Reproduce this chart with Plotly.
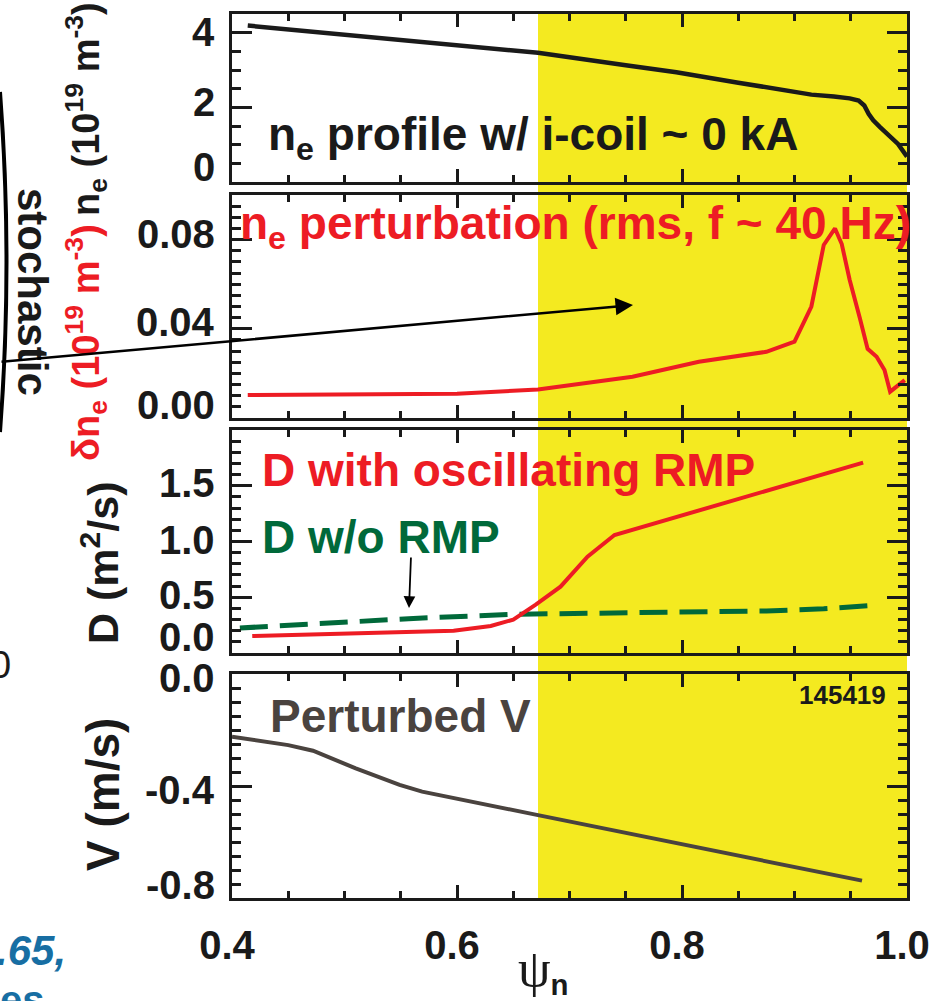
import plotly.graph_objects as go

# ---------------- data ----------------
psi_ne = [0.414, 0.50, 0.60, 0.672, 0.75, 0.795, 0.85, 0.915, 0.935, 0.949, 0.957, 0.962,
          0.966, 0.970, 0.976, 0.985, 0.992, 1.0]
ne = [4.19, 3.95, 3.68, 3.46, 3.13, 2.94, 2.66, 2.34, 2.29, 2.24, 2.18, 2.05,
      1.82, 1.65, 1.47, 1.22, 1.02, 0.68]

psi_dne = [0.414, 0.50, 0.60, 0.672, 0.72, 0.756, 0.815, 0.875, 0.90, 0.915, 0.926, 0.936,
           0.942, 0.949, 0.958, 0.965, 0.973, 0.980, 0.985, 0.991, 0.998]
dne = [0.0103, 0.0104, 0.0109, 0.0128, 0.0158, 0.0185, 0.0252, 0.0297, 0.0342, 0.050, 0.0776, 0.085,
       0.078, 0.062, 0.045, 0.031, 0.0275, 0.0215, 0.0118, 0.014, 0.017]

psi_D_rmp = [0.418, 0.50, 0.597, 0.63, 0.65, 0.67, 0.692, 0.716, 0.74, 0.961]
D_rmp = [0.152, 0.17, 0.20, 0.242, 0.30, 0.433, 0.595, 0.864, 1.058, 1.707]

psi_D0 = [0.407, 0.557, 0.648, 0.756, 0.875, 0.926, 0.975]
D0 = [0.224, 0.308, 0.347, 0.360, 0.377, 0.397, 0.43]

psi_V = [0.40, 0.45, 0.472, 0.51, 0.549, 0.569, 0.672, 0.795, 0.96]
V = [-0.224, -0.254, -0.274, -0.337, -0.396, -0.42, -0.504, -0.605, -0.738]

yellow_band = [0.672, 1.003]

x_tickvals = [0.4, 0.6, 0.8, 1.0]
x_ticktext = ["0.4", "0.6", "0.8", "1.0"]
y1_tickvals = [0, 2, 4]
y1_ticktext = ["0", "2", "4"]
y2_tickvals = [0, 0.02, 0.04, 0.06, 0.08]
y2_ticktext = ["0.00", "", "0.04", "", "0.08"]
y3_tickvals = [0, 0.5, 1.0, 1.5]
y3_ticktext = ["0.0", "0.5", "1.0", "1.5"]
y4_tickvals = [-0.8, -0.6, -0.4, -0.2, 0.0]
y4_ticktext = ["-0.8", "", "-0.4", "", "0.0"]

# ---------------- styling ----------------
W, H = 932, 1001
L, R, T, B = 232, 907, 14, 898          # plot area in pixels
FONT = "Liberation Sans, Arial, sans-serif"
RED = "#ED1C24"
GREEN = "#00693A"
BROWN = "#4A433F"
YELLOW = "#F4EA20"
BLUE = "#176EA3"
INK = "#1A1A1A"


def px(xp):
    return (xp - L) / (R - L)


def py(yp):
    return (B - yp) / (B - T)


def dom(top, bot):
    return [py(bot), py(top)]


panels = [(14, 182), (195, 418), (430, 653), (674, 898)]

fig = go.Figure()
fig.add_trace(go.Scatter(x=psi_ne, y=ne, mode="lines", line=dict(color=INK, width=4.5),
                         xaxis="x", yaxis="y", showlegend=False))
fig.add_trace(go.Scatter(x=psi_dne, y=dne, mode="lines", line=dict(color=RED, width=4),
                         xaxis="x2", yaxis="y2", showlegend=False))
fig.add_trace(go.Scatter(x=psi_D0, y=D0, mode="lines", line=dict(color=GREEN, width=5, dash="28px,12px"),
                         xaxis="x3", yaxis="y3", showlegend=False))
fig.add_trace(go.Scatter(x=psi_D_rmp, y=D_rmp, mode="lines", line=dict(color=RED, width=4),
                         xaxis="x3", yaxis="y3", showlegend=False))
fig.add_trace(go.Scatter(x=psi_V, y=V, mode="lines", line=dict(color=BROWN, width=4),
                         xaxis="x4", yaxis="y4", showlegend=False))

TICKSIZE = 40
tickfont = dict(family=FONT, size=TICKSIZE, color=INK, weight="bold")
common = dict(showline=True, linecolor=INK, linewidth=3, mirror="ticks", ticks="inside",
              tickcolor=INK, tickwidth=2.5, showgrid=False, zeroline=False, tickfont=tickfont,
              automargin=False)

layout_axes = {}
yspecs = [([0, 4.5], y1_tickvals, y1_ticktext, 0.5),
          ([0, 0.1], y2_tickvals, y2_ticktext, 0.005),
          ([0, 2.0], y3_tickvals, y3_ticktext, 0.1),
          ([-0.8, 0.0], y4_tickvals, y4_ticktext, 0.05)]
# vertical nudges (px, up = positive) of the y tick labels, as placed in the reference
label_shift = [[15, 5, 1],
               [13, 0, 7, 0, 6],
               [16, 2, 1.5, 3],
               [13, 0, -4, 0, -4]]

ann = []
for i, ((top, bot), (rng, tv, tt, mdt)) in enumerate(zip(panels, yspecs), start=1):
    sfx = "" if i == 1 else str(i)
    layout_axes["xaxis" + sfx] = dict(
        common, domain=[0, 1], range=[0.4, 1.0], anchor="y" + sfx,
        tickvals=x_tickvals, ticktext=x_ticktext, ticklen=13,
        showticklabels=(i == 4), ticklabelstandoff=10, ticklabelshift=-5,
        ticklabeloverflow="allow",
        minor=dict(dtick=0.05, ticklen=7, tickwidth=2.5, tickcolor=INK, ticks="inside", showgrid=False))
    layout_axes["yaxis" + sfx] = dict(
        common, domain=dom(top, bot), range=rng, anchor="x" + sfx,
        tickvals=tv, ticktext=tt, ticklen=20, showticklabels=False,
        minor=dict(dtick=mdt, ticklen=9, tickwidth=2.5, tickcolor=INK, ticks="inside", showgrid=False))
    # y tick labels drawn from the same tick arrays
    for v, s, sh in zip(tv, tt, label_shift[i - 1]):
        if s:
            ann.append(dict(xref="paper", yref="y" + sfx, x=px(217), y=v, yshift=sh, text=s,
                            showarrow=False, xanchor="right", yanchor="middle", font=tickfont))

shapes = [
    dict(type="rect", xref="x4", yref="paper", x0=yellow_band[0], x1=yellow_band[1],
         y0=0, y1=py(13), fillcolor=YELLOW, line=dict(width=0), layer="below"),
    # fragment of a neighbouring drawing at the left edge
    dict(type="path", xref="paper", yref="paper",
         path=f"M {px(0)} {py(92)} Q {px(13)} {py(262)} {px(0)} {py(432)}",
         line=dict(color="black", width=4)),
]


def text(x, y, s, size, color, xanchor="left", angle=0, family=FONT, weight="bold", style="normal"):
    ann.append(dict(xref="paper", yref="paper", x=px(x), y=py(y), text=s, showarrow=False,
                    xanchor=xanchor, yanchor="middle", textangle=angle,
                    font=dict(family=family, size=size, color=color, weight=weight, style=style)))


# in-panel labels
text(266, 138, "n<sub>e</sub> profile w/ i-coil ~ 0 kA", 46, INK)
text(238, 226, "n<sub>e</sub> perturbation (rms, f ~ 40 Hz)", 46, RED)
text(260, 470, "D with oscillating RMP", 46, RED)
text(260, 537, "D w/o RMP", 46, GREEN)
text(268, 716, "Perturbed V", 46, BROWN)
text(888, 695, "145419", 26, INK, xanchor="right")

# axis titles (rotated)
text(86, 109, "n<sub>e</sub> (10<sup>19</sup> m<sup>-3</sup>)", 38, INK, xanchor="center", angle=-90)
text(86, 343, "δn<sub>e</sub> (10<sup>19</sup> m<sup>-3</sup>)", 38, RED, xanchor="center", angle=-90)
text(100, 563, "D (m<sup>2</sup>/s)", 43, INK, xanchor="center", angle=-90)
text(103, 795, "V (m/s)", 46, INK, xanchor="center", angle=-90)

# x-axis title
ann.append(dict(xref="paper", yref="paper", x=px(543), y=py(971), showarrow=False,
                xanchor="center", yanchor="middle",
                text="<span style='font-family:Liberation Serif, DejaVu Serif, serif; font-weight:normal; font-size:52px'>ψ</span><sub>n</sub>",
                font=dict(family=FONT, size=42, color=INK, weight="bold")))

# fragments of neighbouring slide content at the left edge
text(33, 292, "stochastic", 42, INK, xanchor="center", angle=90)
text(-12, 665, "0", 38, INK, weight="normal")
text(-6, 950, ".65,", 42, BLUE, style="italic")
text(-2, 1000, "es", 40, BLUE)

# arrows
ann.append(dict(xref="paper", yref="paper", x=px(633), y=py(305), ax=0 - 633, ay=362 - 305,
                axref="pixel", ayref="pixel", text="", showarrow=True, arrowhead=2,
                arrowsize=1.4, arrowwidth=2.5, arrowcolor="black", standoff=0))
ann.append(dict(xref="paper", yref="paper", x=px(409), y=py(608), ax=411 - 409, ay=556 - 608,
                axref="pixel", ayref="pixel", text="", showarrow=True, arrowhead=2,
                arrowsize=1.3, arrowwidth=1.8, arrowcolor="black", standoff=0))

fig.update_layout(
    width=W, height=H, autosize=False,
    margin=dict(l=L, r=W - R, t=T, b=H - B, pad=0, autoexpand=False),
    paper_bgcolor="white", plot_bgcolor="rgba(0,0,0,0)",
    showlegend=False, shapes=shapes, annotations=ann,
    **layout_axes,
)

fig.write_html("out.html")
